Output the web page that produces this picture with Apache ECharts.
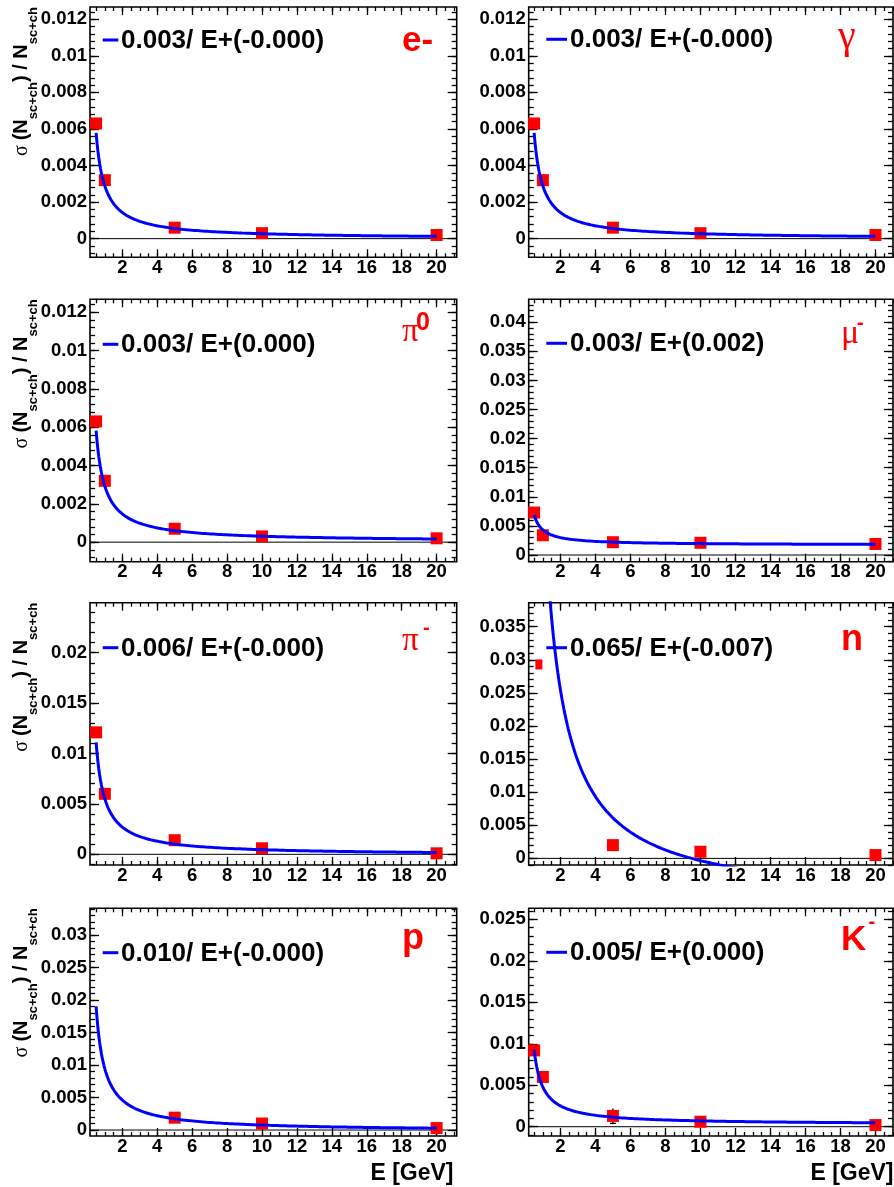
<!DOCTYPE html>
<html>
<head>
<meta charset="utf-8">
<script src="https://cdn.jsdelivr.net/npm/echarts@6/dist/echarts.min.js"></script>
<style>
  html, body { margin: 0; padding: 0; background: #fff; }
  #chart { width: 894px; height: 1187px; }
</style>
</head>
<body>
<div id="chart"></div>
<script>
// ---------------- data ----------------
// beam energies in GeV
const energies = [0.5, 1, 5, 10, 20];

// sigma(N_sc+ch)/N_sc+ch per particle
const resElectron = [0.0063, 0.0032, 0.0006, 0.0003, 0.0002];
const resPhoton   = [0.0063, 0.0032, 0.0006, 0.0003, 0.0002];
const resPi0      = [0.0063, 0.0032, 0.0007, 0.0003, 0.0002];
const resMuon     = [0.0073, 0.0034, 0.0022, 0.0021, 0.0019];
const resPiMinus  = [0.0121, 0.0060, 0.0014, 0.0006, 0.0001];
const energiesNeutron = [1, 5, 10, 20];
const resNeutron  = [0.0293, 0.0020, 0.0010, 0.0005];
const energiesProton = [5, 10, 20];
const resProton   = [0.0019, 0.0010, 0.0003];
const resKaon     = [0.0092, 0.0060, 0.0013, 0.0006, 0.0002];
const errKaon     = [0, 0, 0.0009, 0, 0];

// fit p0/E + p1, one entry per panel (e-, gamma, pi0, mu-, pi-, n, p, K-)
const fitP0 = [0.0029, 0.0029, 0.0029, 0.0026, 0.0056, 0.0646, 0.0096, 0.00452];
const fitP1 = [-0.00002, -0.00002, 0.00002, 0.0017, -0.0001, -0.0068, -0.0002, 0.00025];
const fitRange = [0.5, 20];

// axis ticks
const xTicks = [2, 4, 6, 8, 10, 12, 14, 16, 18, 20];
const yTicksFine = [0, 0.002, 0.004, 0.006, 0.008, 0.01, 0.012];
const yTicksMuon = [0, 0.005, 0.01, 0.015, 0.02, 0.025, 0.03, 0.035, 0.04];
const yTicksPion = [0, 0.005, 0.01, 0.015, 0.02];
const yTicksNeutron = [0, 0.005, 0.01, 0.015, 0.02, 0.025, 0.03, 0.035];
const yTicksProton = [0, 0.005, 0.01, 0.015, 0.02, 0.025, 0.03];
const yTicksKaon = [0, 0.005, 0.01, 0.015, 0.02, 0.025];

// axis ranges
const yMinValues = [-0.00102, -0.00102, -0.00102, -0.00115, -0.00106, -0.0010, -0.00092, -0.00112];
const yMaxValues = [0.01267, 0.01267, 0.01267, 0.04395, 0.02496, 0.03863, 0.0341, 0.02633];

// ---------------- panels ----------------
const panels = [
  { x: energies, y: resElectron, yTicks: yTicksFine, minor: 0.0004 },
  { x: energies, y: resPhoton, yTicks: yTicksFine, minor: 0.0004 },
  { x: energies, y: resPi0, yTicks: yTicksFine, minor: 0.0004 },
  { x: energies, y: resMuon, yTicks: yTicksMuon, minor: 0.001 },
  { x: energies, y: resPiMinus, yTicks: yTicksPion, minor: 0.001 },
  { x: energiesNeutron, y: resNeutron, yTicks: yTicksNeutron, minor: 0.001 },
  { x: energiesProton, y: resProton, yTicks: yTicksProton, minor: 0.001 },
  { x: energies, y: resKaon, yTicks: yTicksKaon, minor: 0.001, err: errKaon }
];

// frame geometry
const cols = [{ left: 90, width: 366.7, xr: [0.15, 21.15] }, { left: 528.7, width: 364.3, xr: [0.19, 21.0] }];
const rows = [{ top: 7, height: 250.3 }, { top: 299.3, height: 262.4 }, { top: 602.7, height: 262.3 }, { top: 908.3, height: 227.7 }];
const legendY = [40, 39.3, 344.3, 343.3, 647.7, 647.7, 952.7, 952.3];

const RED = '#ff0000';
const BLUE = '#0000ff';
const SANS = '"Liberation Sans", Arial, Helvetica, sans-serif';
const SERIF = '"Liberation Serif", "Times New Roman", serif';

// particle labels: pieces drawn as text
const particleLabels = [
  [{ t: 'e-', x: 402, y: 41, font: 'bold 35px ' + SANS }],
  [{ t: 'γ', x: 838, y: 37, font: '40px ' + SERIF }],
  [{ t: 'π', x: 402, y: 332.5, font: '33px ' + SERIF }, { t: '0', x: 416, y: 323, font: 'bold 25px ' + SANS }],
  [{ t: 'μ', x: 841, y: 334, font: '34px ' + SERIF }, { t: '-', x: 857, y: 323.5, font: 'bold 20px ' + SANS }],
  [{ t: 'π', x: 402, y: 641, font: '33px ' + SERIF }, { t: '-', x: 423, y: 628, font: 'bold 20px ' + SANS }],
  [{ t: 'n', x: 841, y: 640.5, font: 'bold 36px ' + SANS }],
  [{ t: 'p', x: 402, y: 939.5, font: 'bold 36px ' + SANS }],
  [{ t: 'K', x: 841, y: 940, font: 'bold 35px ' + SANS }, { t: '-', x: 868.5, y: 922, font: 'bold 20px ' + SANS }]
];

const measureCtx = document.createElement('canvas').getContext('2d');
function textWidth(str, font) { measureCtx.font = font; return measureCtx.measureText(str).width; }

function fmt(v) { return String(parseFloat(v.toFixed(4))); }

function stepValues(min, max, step) {
  const out = [];
  const start = Math.ceil(min / step - 1e-9);
  for (let k = start; k * step <= max + 1e-12; k++) out.push(+(k * step).toFixed(6));
  return out;
}

const grids = [], xAxes = [], yAxes = [], series = [], graphics = [];

panels.forEach((p, i) => {
  const col = cols[i % 2], row = rows[Math.floor(i / 2)];
  grids.push({
    left: col.left, top: row.top, width: col.width, height: row.height,
    show: true, borderColor: '#000', borderWidth: 1.6, backgroundColor: 'transparent',
    containLabel: false, outerBoundsMode: 'none'
  });
  const xr = col.xr, yr = [yMinValues[i], yMaxValues[i]];
  const xMinor = stepValues(xr[0], xr[1], 0.5);
  const yMinor = stepValues(yr[0], yr[1], p.minor);
  const tickStyle = { color: '#000', width: 1.3 };
  const labelStyle = { color: '#000', fontSize: 18.5, fontWeight: 'bold', fontFamily: SANS };

  ['bottom', 'top'].forEach((pos, k) => {
    xAxes.push({
      type: 'value', gridIndex: i, position: pos, min: xr[0], max: xr[1],
      axisLine: { show: false, onZero: false }, splitLine: { show: false },
      axisTick: { show: true, inside: true, length: 8, customValues: xTicks, lineStyle: tickStyle },
      axisLabel: k === 0 ? { show: true, customValues: xTicks, formatter: v => fmt(v), margin: 1, ...labelStyle } : { show: false }
    });
    xAxes.push({
      type: 'value', gridIndex: i, position: pos, min: xr[0], max: xr[1],
      axisLine: { show: false, onZero: false }, splitLine: { show: false },
      axisTick: { show: true, inside: true, length: 4, customValues: xMinor, lineStyle: tickStyle },
      axisLabel: { show: false }
    });
  });
  ['left', 'right'].forEach((pos, k) => {
    yAxes.push({
      type: 'value', gridIndex: i, position: pos, min: yr[0], max: yr[1],
      axisLine: { show: false, onZero: false }, splitLine: { show: false },
      axisTick: { show: true, inside: true, length: 9, customValues: p.yTicks, lineStyle: tickStyle },
      axisLabel: k === 0 ? { show: true, customValues: p.yTicks, formatter: v => fmt(v), margin: 3, ...labelStyle } : { show: false }
    });
    yAxes.push({
      type: 'value', gridIndex: i, position: pos, min: yr[0], max: yr[1],
      axisLine: { show: false, onZero: false }, splitLine: { show: false },
      axisTick: { show: true, inside: true, length: 5, customValues: yMinor, lineStyle: tickStyle },
      axisLabel: { show: false }
    });
  });

  const xi = 4 * i, yi = 4 * i;

  // zero reference line
  series.push({
    type: 'line', xAxisIndex: xi, yAxisIndex: yi, data: [[xr[0], 0], [xr[1], 0]],
    showSymbol: false, silent: true, lineStyle: { color: '#000', width: 1 }, z: 1, animation: false
  });

  // measured points
  const pts = p.x.map((e, k) => [e, p.y[k]]);
  if (i === 5) {
    // neutron: first point partly covered
    series.push({
      type: 'scatter', xAxisIndex: xi, yAxisIndex: yi, data: pts.slice(0, 1),
      symbol: 'rect', symbolSize: [7, 10], symbolOffset: [-4, 0], itemStyle: { color: RED, opacity: 1 }, clip: false, z: 3, animation: false
    });
    series.push({
      type: 'scatter', xAxisIndex: xi, yAxisIndex: yi, data: pts.slice(1),
      symbol: 'rect', symbolSize: 12, itemStyle: { color: RED, opacity: 1 }, clip: false, z: 3, animation: false
    });
  } else {
    series.push({
      type: 'scatter', xAxisIndex: xi, yAxisIndex: yi, data: pts,
      symbol: 'rect', symbolSize: 12, itemStyle: { color: RED, opacity: 1 },
      clip: false, z: 3, animation: false
    });
  }

  // error bars
  if (p.err) {
    const errData = p.x.map((e, k) => [e, p.y[k], p.err[k]]).filter(d => d[2] > 0);
    series.push({
      type: 'custom', xAxisIndex: xi, yAxisIndex: yi, data: errData, z: 2, animation: false,
      renderItem: (params, api) => {
        const x = api.value(0), y = api.value(1), e = api.value(2);
        const top = api.coord([x, y + e]), bot = api.coord([x, y - e]);
        return {
          type: 'group', children: [
            { type: 'line', shape: { x1: top[0], y1: top[1], x2: bot[0], y2: bot[1] }, style: { stroke: '#000', lineWidth: 1.3 } },
            { type: 'line', shape: { x1: bot[0] - 3, y1: bot[1], x2: bot[0] + 3, y2: bot[1] }, style: { stroke: '#000', lineWidth: 1.3 } }
          ]
        };
      }
    });
  }

  // fit curve p0/E + p1
  const curve = [];
  for (let e = fitRange[0]; e <= fitRange[1] + 1e-9; e += 0.05) {
    const ee = +e.toFixed(3);
    curve.push([ee, fitP0[i] / ee + fitP1[i]]);
  }
  series.push({
    type: 'line', xAxisIndex: xi, yAxisIndex: yi, data: curve, showSymbol: false, smooth: false,
    clip: true, silent: true, lineStyle: { color: BLUE, width: 3 }, z: 4, animation: false
  });

  // legend entry
  const lx = i % 2 === 0 ? [102.7, 118.3, 121] : [546.3, 567, 570];
  const ly = legendY[i];
  graphics.push({ type: 'line', shape: { x1: lx[0], y1: ly, x2: lx[1], y2: ly }, style: { stroke: BLUE, lineWidth: 3 }, z: 10 });
  graphics.push({
    type: 'text', x: lx[2], y: ly + 0.8, z: 10,
    style: { text: fitP0[i].toFixed(3) + '/ E+(' + fitP1[i].toFixed(3) + ')', font: 'bold 26px ' + SANS, fill: '#000', align: 'left', verticalAlign: 'middle' }
  });

  // particle name
  particleLabels[i].forEach(piece => {
    graphics.push({ type: 'text', x: piece.x, y: piece.y, z: 10,
      style: { text: piece.t, font: piece.font, fill: RED, align: 'left', verticalAlign: 'middle' } });
  });

  // y-axis title on the left column
  if (i % 2 === 0) {
    const mainFont = 'bold 20px ' + SANS;
    const subFont = 'bold 13px ' + SANS;
    const pieces = [
      { t: 'σ ', font: '20px ' + SERIF, sub: false },
      { t: '(N', font: mainFont, sub: false },
      { t: 'sc+ch', font: subFont, sub: true },
      { t: ') / N', font: mainFont, sub: false },
      { t: 'sc+ch', font: subFont, sub: true }
    ];
    let cursor = 0;
    const children = pieces.map(pc => {
      const el = { type: 'text', x: cursor, y: pc.sub ? 5 : -6.9,
        style: { text: pc.t, font: pc.font, fill: '#000', align: 'left', verticalAlign: 'middle' } };
      cursor += textWidth(pc.t, pc.font);
      return el;
    });
    graphics.push({ type: 'group', x: 28.5, y: row.top + cursor, rotation: Math.PI / 2, children, z: 10 });
  }
});

// x-axis titles under the bottom row
graphics.push({ type: 'text', x: 453.5, y: 1174, z: 10,
  style: { text: 'E [GeV]', font: 'bold 23px ' + SANS, fill: '#000', align: 'right', verticalAlign: 'middle' } });
graphics.push({ type: 'text', x: 893.5, y: 1174, z: 10,
  style: { text: 'E [GeV]', font: 'bold 23px ' + SANS, fill: '#000', align: 'right', verticalAlign: 'middle' } });

const chart = echarts.init(document.getElementById('chart'), null, { renderer: 'canvas' });
chart.setOption({
  animation: false,
  backgroundColor: '#fff',
  grid: grids,
  xAxis: xAxes,
  yAxis: yAxes,
  series: series,
  graphic: { elements: graphics }
});
</script>
</body>
</html>
